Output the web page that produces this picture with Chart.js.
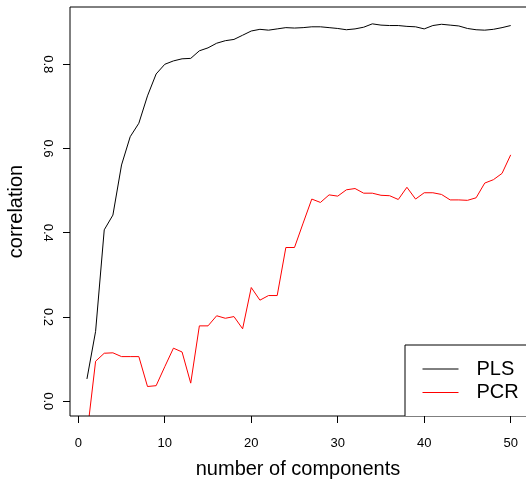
<!DOCTYPE html>
<html lang="en">
<head>
<meta charset="UTF-8">
<title>PLS vs PCR correlation</title>
<script src="https://cdn.jsdelivr.net/npm/chart.js@4.4.0/dist/chart.umd.min.js"></script>
<style>
  html, body { margin: 0; padding: 0; background: #fff; overflow: hidden; }
</style>
</head>
<body>
<canvas id="myChart" width="526" height="480"></canvas>

<script>
// number of components on the x axis
const components = [1, 2, 3, 4, 5, 6, 7, 8, 9, 10,
  11, 12, 13, 14, 15, 16, 17, 18, 19, 20,
  21, 22, 23, 24, 25, 26, 27, 28, 29, 30,
  31, 32, 33, 34, 35, 36, 37, 38, 39, 40,
  41, 42, 43, 44, 45, 46, 47, 48, 49, 50];

const plsCorr = [0.053, 0.166, 0.407, 0.442, 0.561, 0.628, 0.660, 0.725, 0.777, 0.800,
  0.808, 0.813, 0.814, 0.832, 0.839, 0.850, 0.856, 0.859, 0.869, 0.879,
  0.883, 0.881, 0.884, 0.887, 0.886, 0.887, 0.889, 0.889, 0.887, 0.885,
  0.882, 0.884, 0.888, 0.896, 0.893, 0.892, 0.892, 0.890, 0.889, 0.884,
  0.892, 0.895, 0.893, 0.891, 0.885, 0.882, 0.881, 0.883, 0.887, 0.892];

const pcrCorr = [-0.080, 0.095, 0.114, 0.115, 0.106, 0.106, 0.106, 0.035, 0.037, 0.082,
  0.126, 0.117, 0.043, 0.179, 0.179, 0.203, 0.197, 0.201, 0.172, 0.270,
  0.240, 0.251, 0.251, 0.365, 0.365, 0.423, 0.480, 0.472, 0.490, 0.487,
  0.502, 0.505, 0.494, 0.494, 0.489, 0.488, 0.479, 0.508, 0.480, 0.495,
  0.495, 0.491, 0.478, 0.478, 0.477, 0.483, 0.518, 0.526, 0.541, 0.585];

const seriesNames = ['PLS', 'PCR'];
const seriesColors = ['#000000', '#ff0000'];

const xTicks = [0, 10, 20, 30, 40, 50];
const yTicks = [0.0, 0.2, 0.4, 0.6, 0.8];

const FONT = '"Liberation Sans", Arial, Helvetica, sans-serif';

// box round the plot region (R style, right side is off the picture)
const frame = {
  id: 'frame',
  afterDatasetsDraw(chart) {
    const {ctx, chartArea: a} = chart;
    ctx.save();
    ctx.strokeStyle = '#000';
    ctx.lineWidth = 1;
    ctx.beginPath();
    ctx.moveTo(a.right + 2, a.top);
    ctx.lineTo(a.left, a.top);
    ctx.lineTo(a.left, a.bottom);
    ctx.lineTo(a.right + 2, a.bottom);
    ctx.stroke();
    ctx.restore();
  }
};

// legend box in the bottom right corner
const boxLegend = {
  id: 'boxLegend',
  afterDraw(chart) {
    const {ctx, chartArea: a} = chart;
    const left = 405, top = 345;
    ctx.save();
    ctx.fillStyle = '#fff';
    ctx.fillRect(left, top, a.right - left + 5, a.bottom - top);
    ctx.strokeStyle = '#000';
    ctx.lineWidth = 1;
    ctx.beginPath();
    ctx.moveTo(left, a.bottom);
    ctx.lineTo(left, top);
    ctx.lineTo(a.right + 5, top);
    ctx.stroke();
    ctx.font = '20px ' + FONT;
    ctx.textBaseline = 'middle';
    ctx.textAlign = 'left';
    seriesNames.forEach((name, i) => {
      const y = 369 + i * 23.5;
      ctx.strokeStyle = seriesColors[i];
      ctx.beginPath();
      ctx.moveTo(422.5, y);
      ctx.lineTo(458.5, y);
      ctx.stroke();
      ctx.fillStyle = '#000';
      ctx.fillText(name, 476.5, y);
    });
    ctx.restore();
  }
};

const data = {
  datasets: [plsCorr, pcrCorr].map((vals, i) => ({
    label: seriesNames[i],
    data: components.map((c, j) => ({x: c, y: vals[j]})),
    borderColor: seriesColors[i],
    borderWidth: 1,
    pointRadius: 0,
    tension: 0,
    fill: false
  }))
};

const config = {
  type: 'line',
  data: data,
  options: {
    responsive: false,
    animation: false,
    devicePixelRatio: 1,
    layout: {padding: {top: 7, right: 0, bottom: 0, left: 0}},
    plugins: {
      legend: {display: false},
      tooltip: {enabled: false}
    },
    scales: {
      x: {
        type: 'linear',
        min: -0.96,
        max: 51.77,
        afterBuildTicks: s => { s.ticks = xTicks.map(v => ({value: v})); },
        afterFit: s => { s.height = 64; s.paddingLeft = 0; s.paddingRight = 0; },
        border: {display: false},
        grid: {drawOnChartArea: false, drawTicks: true, tickLength: 7, color: '#000'},
        ticks: {
          padding: 13, color: '#000', autoSkip: false, maxRotation: 0,
          font: {family: FONT, size: 13}
        },
        title: {
          display: true, text: 'number of components', color: '#000',
          font: {family: FONT, size: 20, lineHeight: 1}, padding: {top: 0, bottom: 1}
        }
      },
      y: {
        type: 'linear',
        min: -0.035,
        max: 0.936,
        afterBuildTicks: s => { s.ticks = yTicks.map(v => ({value: v})); },
        afterFit: s => { s.width = 70; s.paddingTop = 0; s.paddingBottom = 0; },
        border: {display: false},
        grid: {drawOnChartArea: false, drawTicks: true, tickLength: 7, color: '#000'},
        ticks: {
          padding: 6, color: '#000', autoSkip: false,
          minRotation: -90, maxRotation: -90, crossAlign: 'center',
          font: {family: FONT, size: 13},
          callback: v => v.toFixed(1)
        },
        title: {
          display: true, text: 'correlation', color: '#000',
          font: {family: FONT, size: 20}, padding: {top: 4, bottom: 0}
        }
      }
    }
  },
  plugins: [frame, boxLegend]
};

const myChart = new Chart(document.getElementById('myChart'), config);
</script>
</body>
</html>
